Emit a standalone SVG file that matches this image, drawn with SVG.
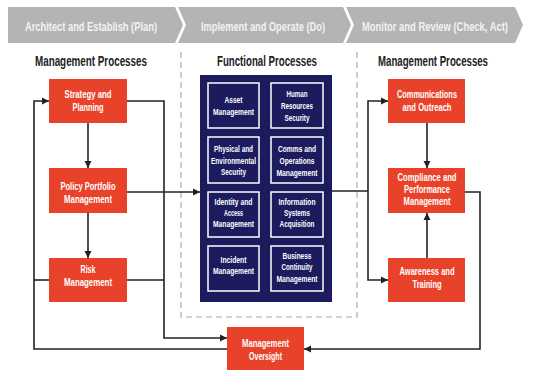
<svg xmlns="http://www.w3.org/2000/svg" width="539" height="371" viewBox="0 0 539 371">
  <style>
    text { font-family: "Liberation Sans Narrow", "Liberation Sans", Arial, sans-serif; font-weight: bold; text-anchor: middle; }
    .band { fill: #b4b4b4; }
    .band-t { fill: #f2f2f2; font-size: 12.5px; }
    .head { fill: #222; font-size: 14px; }
    .box { fill: #e8432a; }
    .box-t { fill: #fff; font-size: 11px; }
    .panel { fill: #1b1b5e; }
    .cell { fill: none; stroke: #fff; stroke-width: 1.5; }
    .cell-t { fill: #fff; font-size: 9.5px; }
    .frame { fill: none; stroke: #aaa; stroke-width: 1.2; stroke-dasharray: 6 4; }
    .wire { fill: none; stroke: #222; stroke-width: 1.6; }
  </style>
  <defs>
    <marker id="arrow" markerUnits="userSpaceOnUse" markerWidth="8" markerHeight="8" refX="7" refY="4" orient="auto">
      <path d="M0,0.5 L7,4 L0,7.5 Z" fill="#222"/>
    </marker>
  </defs>

  <rect width="539" height="371" fill="#fff"/>

  <!-- phase banner -->
  <g id="phases">
    <path class="band" d="M8,7 H175 L183,25 L175,43 H8 Z"/>
    <path class="band" d="M178,7 H343 L351,25 L343,43 H178 L186,25 Z"/>
    <path class="band" d="M346,7 H515 L523,25 L515,43 H346 L354,25 Z"/>
    <text class="band-t" x="91" y="31" textLength="132" lengthAdjust="spacingAndGlyphs">Architect and Establish (Plan)</text>
    <text class="band-t" x="263" y="31" textLength="124" lengthAdjust="spacingAndGlyphs">Implement and Operate (Do)</text>
    <text class="band-t" x="435" y="31" textLength="146" lengthAdjust="spacingAndGlyphs">Monitor and Review (Check, Act)</text>
  </g>

  <!-- column headings -->
  <g id="headings">
    <text class="head" x="91" y="66" textLength="112" lengthAdjust="spacingAndGlyphs">Management Processes</text>
    <text class="head" x="267" y="66" textLength="100" lengthAdjust="spacingAndGlyphs">Functional Processes</text>
    <text class="head" x="433" y="66" textLength="110" lengthAdjust="spacingAndGlyphs">Management Processes</text>
  </g>

  <!-- dashed frame around functional processes -->
  <path class="frame" d="M181,52 V317 H357 V52"/>

  <!-- connectors -->
  <g id="connectors">
    <path class="wire" d="M88,123 V168" marker-end="url(#arrow)"/>
    <path class="wire" d="M88,213 V258" marker-end="url(#arrow)"/>
    <path class="wire" d="M127,101 H164 V338 H227" marker-end="url(#arrow)"/>
    <path class="wire" d="M127,280 H164"/>
    <path class="wire" d="M227,349 H34 V101 H49" marker-end="url(#arrow)"/>
    <path class="wire" d="M34,280 H49"/>
    <path class="wire" d="M127,192 H200" marker-end="url(#arrow)"/>
    <path class="wire" d="M332,191 H368"/>
    <path class="wire" d="M368,191 V101 H388" marker-end="url(#arrow)"/>
    <path class="wire" d="M368,191 V280 H388" marker-end="url(#arrow)"/>
    <path class="wire" d="M427,123 V168" marker-end="url(#arrow)"/>
    <path class="wire" d="M427,258 V213" marker-end="url(#arrow)"/>
    <path class="wire" d="M465,192 H480 V349 H304" marker-end="url(#arrow)"/>
  </g>

  <!-- left management processes -->
  <g id="strategy">
    <rect class="box" x="49" y="79" width="78" height="44"/>
    <text class="box-t" x="88" y="98" textLength="47" lengthAdjust="spacingAndGlyphs">Strategy and</text>
    <text class="box-t" x="88" y="111" textLength="31" lengthAdjust="spacingAndGlyphs">Planning</text>
  </g>
  <g id="policy">
    <rect class="box" x="49" y="168" width="78" height="45"/>
    <text class="box-t" x="88" y="190" textLength="55" lengthAdjust="spacingAndGlyphs">Policy Portfolio</text>
    <text class="box-t" x="88" y="203" textLength="48" lengthAdjust="spacingAndGlyphs">Management</text>
  </g>
  <g id="risk">
    <rect class="box" x="49" y="258" width="78" height="44"/>
    <text class="box-t" x="88" y="273" textLength="15" lengthAdjust="spacingAndGlyphs">Risk</text>
    <text class="box-t" x="88" y="286" textLength="48" lengthAdjust="spacingAndGlyphs">Management</text>
  </g>

  <!-- functional processes panel -->
  <g id="functional">
    <rect class="panel" x="200" y="75" width="132" height="227"/>
    <rect class="cell" x="208" y="83" width="51" height="45"/>
    <rect class="cell" x="271" y="83" width="52" height="45"/>
    <rect class="cell" x="208" y="137" width="51" height="46"/>
    <rect class="cell" x="271" y="137" width="52" height="46"/>
    <rect class="cell" x="208" y="192" width="51" height="45"/>
    <rect class="cell" x="271" y="192" width="52" height="45"/>
    <rect class="cell" x="208" y="246" width="51" height="45"/>
    <rect class="cell" x="271" y="246" width="52" height="45"/>

    <text class="cell-t" x="233.5" y="103" textLength="18" lengthAdjust="spacingAndGlyphs">Asset</text>
    <text class="cell-t" x="233.5" y="115" textLength="41" lengthAdjust="spacingAndGlyphs">Management</text>

    <text class="cell-t" x="297" y="97" textLength="21" lengthAdjust="spacingAndGlyphs">Human</text>
    <text class="cell-t" x="297" y="109" textLength="32" lengthAdjust="spacingAndGlyphs">Resources</text>
    <text class="cell-t" x="297" y="121" textLength="25" lengthAdjust="spacingAndGlyphs">Security</text>

    <text class="cell-t" x="233.5" y="152" textLength="39" lengthAdjust="spacingAndGlyphs">Physical and</text>
    <text class="cell-t" x="233.5" y="163.5" textLength="45" lengthAdjust="spacingAndGlyphs">Environmental</text>
    <text class="cell-t" x="233.5" y="175" textLength="25" lengthAdjust="spacingAndGlyphs">Security</text>

    <text class="cell-t" x="297" y="152" textLength="38" lengthAdjust="spacingAndGlyphs">Comms and</text>
    <text class="cell-t" x="297" y="164" textLength="35" lengthAdjust="spacingAndGlyphs">Operations</text>
    <text class="cell-t" x="297" y="176" textLength="41" lengthAdjust="spacingAndGlyphs">Management</text>

    <text class="cell-t" x="233.5" y="205" textLength="38" lengthAdjust="spacingAndGlyphs">Identity and</text>
    <text class="cell-t" x="233.5" y="216" textLength="19" lengthAdjust="spacingAndGlyphs">Access</text>
    <text class="cell-t" x="233.5" y="227" textLength="41" lengthAdjust="spacingAndGlyphs">Management</text>

    <text class="cell-t" x="297" y="205" textLength="37" lengthAdjust="spacingAndGlyphs">Information</text>
    <text class="cell-t" x="297" y="216" textLength="26" lengthAdjust="spacingAndGlyphs">Systems</text>
    <text class="cell-t" x="297" y="227" textLength="35" lengthAdjust="spacingAndGlyphs">Acquisition</text>

    <text class="cell-t" x="233.5" y="263" textLength="26" lengthAdjust="spacingAndGlyphs">Incident</text>
    <text class="cell-t" x="233.5" y="274" textLength="41" lengthAdjust="spacingAndGlyphs">Management</text>

    <text class="cell-t" x="297" y="259" textLength="29" lengthAdjust="spacingAndGlyphs">Business</text>
    <text class="cell-t" x="297" y="270" textLength="31" lengthAdjust="spacingAndGlyphs">Continuity</text>
    <text class="cell-t" x="297" y="282" textLength="41" lengthAdjust="spacingAndGlyphs">Management</text>
  </g>

  <!-- right management processes -->
  <g id="communications">
    <rect class="box" x="388" y="79" width="77" height="44"/>
    <text class="box-t" x="427" y="98" textLength="60" lengthAdjust="spacingAndGlyphs">Communications</text>
    <text class="box-t" x="427" y="111" textLength="49" lengthAdjust="spacingAndGlyphs">and Outreach</text>
  </g>
  <g id="compliance">
    <rect class="box" x="388" y="168" width="77" height="45"/>
    <text class="box-t" x="427" y="181" textLength="59" lengthAdjust="spacingAndGlyphs">Compliance and</text>
    <text class="box-t" x="427" y="193" textLength="46" lengthAdjust="spacingAndGlyphs">Performance</text>
    <text class="box-t" x="427" y="205" textLength="47" lengthAdjust="spacingAndGlyphs">Management</text>
  </g>
  <g id="awareness">
    <rect class="box" x="388" y="258" width="77" height="44"/>
    <text class="box-t" x="427" y="275" textLength="55" lengthAdjust="spacingAndGlyphs">Awareness and</text>
    <text class="box-t" x="427" y="288" textLength="29" lengthAdjust="spacingAndGlyphs">Training</text>
  </g>

  <!-- oversight -->
  <g id="oversight">
    <rect class="box" x="227" y="327" width="77" height="43"/>
    <text class="box-t" x="265.5" y="347" textLength="47" lengthAdjust="spacingAndGlyphs">Management</text>
    <text class="box-t" x="265.5" y="360" textLength="33" lengthAdjust="spacingAndGlyphs">Oversight</text>
  </g>
</svg>
